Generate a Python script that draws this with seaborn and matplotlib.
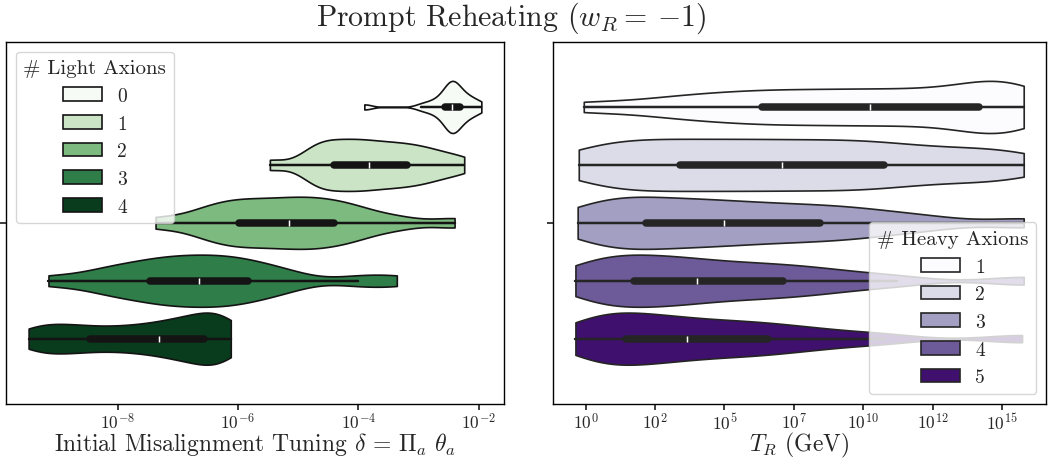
import numpy as np
import pandas as pd
import matplotlib
matplotlib.use("Agg")
import matplotlib.pyplot as plt
from matplotlib.ticker import FuncFormatter, MultipleLocator
import seaborn as sns

# ---------------------------------------------------------------------------
# Sampled log10 values (5%-spaced quantiles of each scan population)
# ---------------------------------------------------------------------------
light_levels = ["0", "1", "2", "3", "4"]
heavy_levels = ["1", "2", "3", "4", "5"]

# log10(delta), delta = prod_a theta_a, grouped by number of light axions
log_delta_light0 = [-3.90, -2.95, -2.80, -2.70, -2.62, -2.565, -2.52, -2.49, -2.465, -2.45, -2.44,
                    -2.425, -2.41, -2.38, -2.35, -2.305, -2.25, -2.20, -2.14, -2.06, -1.955]
log_delta_light1 = [-5.47, -4.86, -4.74, -4.62, -4.51, -4.40, -4.28, -4.16, -4.05, -3.94, -3.83,
                    -3.70, -3.58, -3.45, -3.32, -3.19, -3.05, -2.90, -2.74, -2.52, -2.24]
log_delta_light2 = [-7.37, -6.75, -6.50, -6.30, -6.13, -5.98, -5.82, -5.65, -5.48, -5.32, -5.16,
                    -5.01, -4.86, -4.71, -4.56, -4.40, -4.22, -4.03, -3.78, -3.30, -2.40]
log_delta_light3 = [-9.15, -8.45, -8.15, -7.90, -7.66, -7.46, -7.29, -7.13, -6.96, -6.80, -6.64,
                    -6.48, -6.32, -6.16, -6.00, -5.84, -5.62, -5.38, -5.05, -4.00, -3.36]
log_delta_light4 = [-9.48, -9.30, -9.10, -8.90, -8.68, -8.465, -8.20, -7.95, -7.72, -7.50, -7.31,
                    -7.13, -6.98, -6.85, -6.72, -6.56, -6.47, -6.38, -6.29, -6.20, -6.12]

# log10(T_R / GeV), grouped by number of heavy axions
log_tr_heavy1 = [-0.07, 2.30, 3.60, 4.60, 5.50, 6.35, 7.10, 7.90, 8.70, 9.50, 10.23,
                 11.00, 11.80, 12.50, 13.30, 14.16, 14.60, 14.95, 15.25, 15.50, 15.78]
log_tr_heavy2 = [-0.25, 0.55, 1.25, 2.00, 2.70, 3.41, 4.15, 4.90, 5.60, 6.33, 7.06,
                 7.80, 8.55, 9.30, 10.00, 10.74, 11.60, 12.60, 13.70, 14.80, 15.78]
log_tr_heavy3 = [-0.29, 0.20, 0.75, 1.25, 1.72, 2.19, 2.75, 3.30, 3.90, 4.45, 5.00,
                 5.65, 6.30, 7.00, 7.70, 8.43, 9.20, 10.00, 11.00, 12.50, 15.78]
log_tr_heavy4 = [-0.37, 0.10, 0.50, 0.95, 1.35, 1.73, 2.20, 2.65, 3.10, 3.55, 4.01,
                 4.60, 5.20, 5.80, 6.45, 7.09, 7.80, 8.60, 9.60, 11.20, 15.78]
log_tr_heavy5 = [-0.37, 0.05, 0.40, 0.75, 1.10, 1.44, 1.85, 2.30, 2.75, 3.20, 3.65,
                 4.20, 4.80, 5.40, 5.95, 6.56, 7.30, 8.10, 9.20, 10.80, 15.72]

light_samples = [log_delta_light0, log_delta_light1, log_delta_light2,
                 log_delta_light3, log_delta_light4]
heavy_samples = [log_tr_heavy1, log_tr_heavy2, log_tr_heavy3,
                 log_tr_heavy4, log_tr_heavy5]

light_title = "# Light Axions"
heavy_title = "# Heavy Axions"

df_light = pd.concat(
    [pd.DataFrame({"log_delta": v, light_title: lvl, "grp": ""})
     for lvl, v in zip(light_levels, light_samples)], ignore_index=True)
df_heavy = pd.concat(
    [pd.DataFrame({"log_tr": v, heavy_title: lvl, "grp": ""})
     for lvl, v in zip(heavy_levels, heavy_samples)], ignore_index=True)

# ---------------------------------------------------------------------------
# Style
# ---------------------------------------------------------------------------
sns.set_theme(style="ticks")
plt.rcParams.update({
    "font.family": ["cmr10", "DejaVu Serif"],
    "mathtext.fontset": "cm",
    "axes.formatter.use_mathtext": True,
    "axes.linewidth": 1.0,
    "axes.edgecolor": "black",
    "xtick.major.size": 4.5,
    "ytick.major.size": 4.5,
    "xtick.major.pad": 1.0,
})

greens = [matplotlib.colormaps["Greens"](t) for t in np.linspace(0, 1, 5)]
purples = [matplotlib.colormaps["Purples"](t) for t in np.linspace(0, 1, 5)]

fig = plt.figure(figsize=(10.48, 4.6), dpi=100)
ax_l = fig.add_axes([0.0057, 0.12, 0.4752, 0.787])
ax_r = fig.add_axes([0.5277, 0.12, 0.4705, 0.787])

common = dict(y="grp", cut=0, density_norm="width", inner="box",
              gap=0.1, bw_adjust=0.55, linewidth=1.2)

sns.violinplot(data=df_light, x="log_delta", hue=light_title,
               hue_order=light_levels, palette=greens, ax=ax_l, **common)
sns.violinplot(data=df_heavy, x="log_tr", hue=heavy_title,
               hue_order=heavy_levels, palette=purples, ax=ax_r, **common)

pow_fmt = FuncFormatter(lambda v, pos: f"$10^{{{int(v)}}}$")
ax_l.xaxis.set_major_locator(MultipleLocator(2))
ax_r.xaxis.set_major_locator(MultipleLocator(2.5))
for ax in (ax_l, ax_r):
    ax.xaxis.set_major_formatter(pow_fmt)
    ax.tick_params(axis="x", labelsize=12.5)
    ax.set_ylabel("")
    for side in ("top", "right", "left", "bottom"):
        ax.spines[side].set_visible(True)
        ax.spines[side].set_color("black")

ax_l.set_xlabel(r"Initial Misalignment Tuning $\delta\,=\,\Pi_a\ \theta_a$",
                fontsize=17, labelpad=-1)
ax_r.set_xlabel(r"$T_R$ (GeV)", fontsize=17, labelpad=-1)

sns.move_legend(ax_l, "upper left", fontsize=14, title_fontsize=15)
sns.move_legend(ax_r, "lower right", fontsize=14, title_fontsize=15)

fig.suptitle(r"Prompt Reheating ($w_R =\:{-1}$)", fontsize=21.5, x=0.488, y=0.998)

fig.savefig("out.png", dpi=100)
